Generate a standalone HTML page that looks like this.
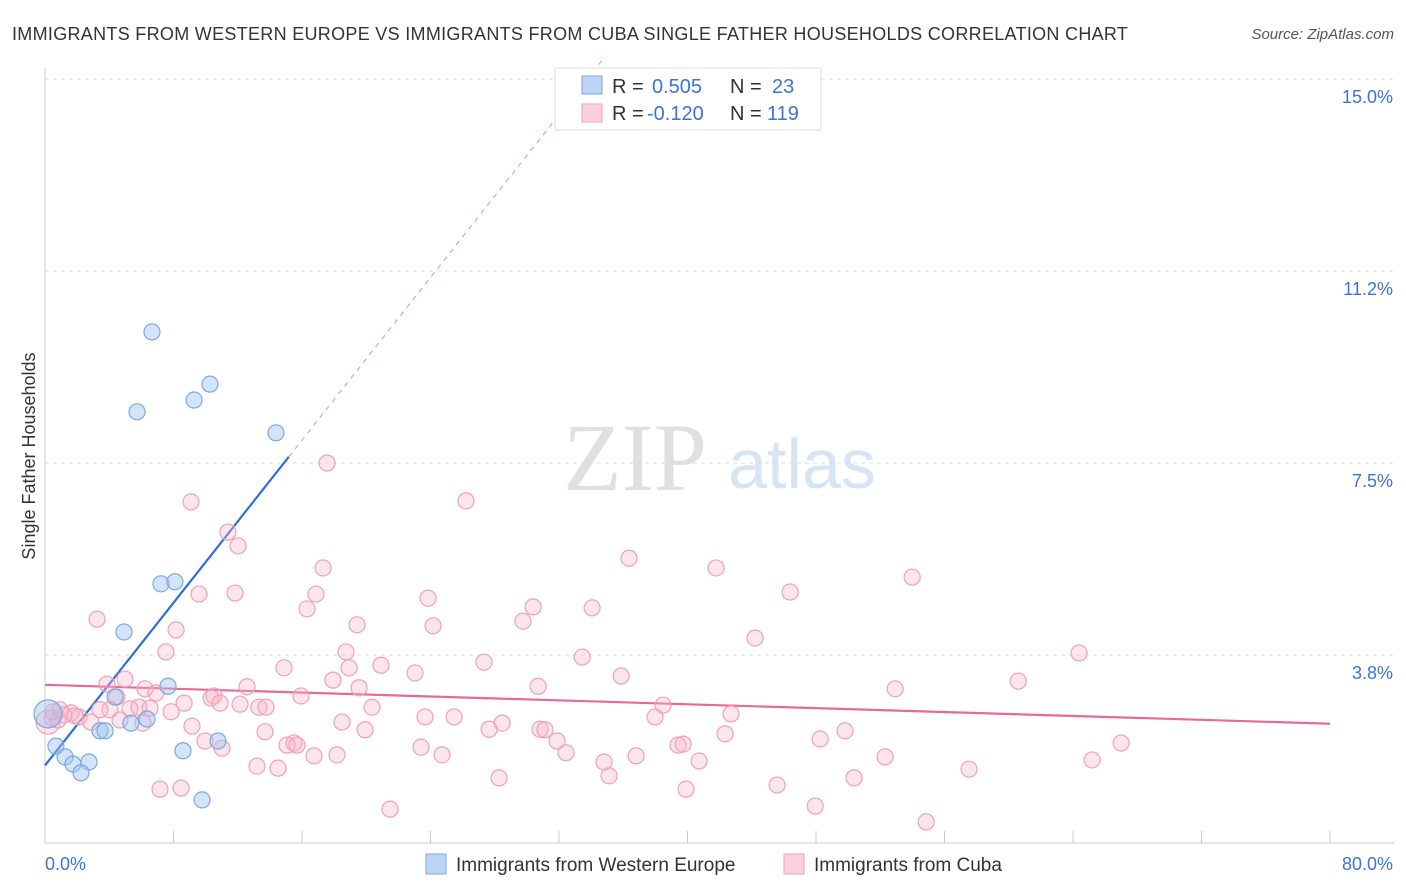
<!DOCTYPE html>
<html><head><meta charset="utf-8"><style>
body{margin:0;background:#fff;font-family:"Liberation Sans",sans-serif;}
#wrap{position:relative;width:1406px;height:892px;overflow:hidden;}
</style></head><body>
<div id="wrap">
<svg id="chart" width="1406" height="892" xmlns="http://www.w3.org/2000/svg">
<text x="12" y="40" font-size="18" letter-spacing="0.3" fill="#333">IMMIGRANTS FROM WESTERN EUROPE VS IMMIGRANTS FROM CUBA SINGLE FATHER HOUSEHOLDS CORRELATION CHART</text>
<text x="1394" y="39" font-size="15" fill="#555" font-style="italic" text-anchor="end">Source: ZipAtlas.com</text>
<g>
<text x="635" y="490" font-size="96" fill="#e0e0e0" font-family="Liberation Serif,serif" text-anchor="middle">ZIP</text>
<text x="802" y="488" font-size="70" fill="#d6e4f5" text-anchor="middle">atlas</text>
</g>
<g id="grid"></g>
<g id="axes"></g>
<g id="lines"></g>
<g id="pts"></g>
<text x="35" y="456" font-size="18" fill="#333" text-anchor="middle" transform="rotate(-90 35 456)">Single Father Households</text>
<g>
<rect x="555" y="68" width="266" height="62" fill="#fff" stroke="#ddd"/>
<rect x="582" y="76" width="20" height="18" fill="#bcd4f5" stroke="#7aa8e0"/>
<rect x="582" y="104" width="20" height="18" fill="#fbcfdc" stroke="#f0a0b8"/>
<text x="612" y="93" font-size="20" fill="#333">R =</text>
<text x="652" y="93" font-size="20" fill="#3a74d6">0.505</text>
<text x="730" y="93" font-size="20" fill="#333">N =</text>
<text x="772" y="93" font-size="20" fill="#3a74d6">23</text>
<text x="612" y="120" font-size="20" fill="#333">R =</text>
<text x="647" y="120" font-size="20" fill="#3a74d6">-0.120</text>
<text x="730" y="120" font-size="20" fill="#333">N =</text>
<text x="767" y="120" font-size="20" fill="#3a74d6">119</text>
</g>
<g>
<rect x="426" y="854" width="20" height="20" fill="#bcd4f5" stroke="#7aa8e0"/>
<text x="456" y="871" font-size="19" fill="#333">Immigrants from Western Europe</text>
<rect x="784" y="854" width="20" height="20" fill="#fbcfdc" stroke="#f0a0b8"/>
<text x="814" y="871" font-size="19" fill="#333">Immigrants from Cuba</text>
</g>
</svg>
</div>
<script>
const yTicks=[3.75,7.5,11.25,15];
const yTickLabels=["3.8%","7.5%","11.2%","15.0%"];
const xTickLabels=["0.0%","80.0%"];
const blueX=[6.66,5.73,9.28,10.27,14.38,7.22,8.09,4.92,7.66,4.36,6.35,5.35,3.42,3.74,8.59,10.77,0.68,1.25,1.74,2.74,2.24,9.78,0.19];
const blueY=[10.06,8.50,8.73,9.04,8.09,5.14,5.18,4.20,3.14,2.93,2.50,2.42,2.27,2.27,1.88,2.07,1.97,1.76,1.62,1.66,1.45,0.92,2.60];
const pinkX=[17.56,26.21,9.09,11.39,12.02,36.36,41.78,53.99,17.31,9.59,11.83,16.87,23.85,30.39,34.06,46.39,16.31,3.24,29.76,24.16,19.43,8.16,44.21,7.53,18.74,33.44,64.38,27.33,14.88,18.93,20.92,23.04,35.87,17.93,60.59,3.86,4.98,6.23,6.91,12.58,19.55,30.70,52.93,10.52,15.94,8.66,10.34,10.90,12.14,4.48,4.05,5.29,5.85,6.54,7.85,13.32,13.76,20.36,38.48,0.93,1.62,2.12,2.86,3.42,4.67,6.10,9.15,18.49,23.66,25.47,28.46,30.82,37.98,42.71,19.93,27.65,31.13,31.88,42.34,49.81,9.96,11.02,13.70,15.07,15.50,15.69,16.75,18.18,23.41,24.72,32.44,36.80,39.41,39.73,48.26,67.00,13.20,14.51,34.81,40.72,52.30,65.19,28.27,35.12,50.37,57.53,7.16,8.47,39.91,45.58,21.48,47.95,54.86,0.44,0.19,0.81,1.18,1.87,0.50];
const pinkY=[7.50,6.76,6.74,6.15,5.88,5.64,5.45,5.27,5.45,4.94,4.96,4.94,4.86,4.69,4.67,4.98,4.65,4.45,4.41,4.32,4.34,4.24,4.08,3.81,3.81,3.71,3.79,3.61,3.50,3.50,3.55,3.40,3.34,3.26,3.24,3.18,3.28,3.09,3.01,3.13,3.11,3.14,3.09,2.95,2.95,2.81,2.91,2.81,2.79,2.93,2.68,2.70,2.73,2.71,2.64,2.73,2.73,2.73,2.77,2.68,2.62,2.54,2.44,2.68,2.48,2.42,2.36,2.44,2.54,2.54,2.42,2.30,2.54,2.60,2.29,2.30,2.29,2.07,2.21,2.27,2.07,1.93,2.25,1.99,2.03,1.99,1.78,1.80,1.95,1.80,1.84,1.78,1.99,2.01,2.11,2.03,1.58,1.54,1.66,1.68,1.76,1.70,1.35,1.39,1.35,1.52,1.13,1.15,1.13,1.21,0.74,0.80,0.49,2.52,2.44,2.48,2.58,2.56,2.64];

const NS="http://www.w3.org/2000/svg";
const X0=45,X1=1330,Y0=847,PXY=51.2;
function xs(v){return X0+(X1-X0)*v/80;}
function ys(v){return Y0-v*PXY;}
function mk(tag,attrs,parent){const e=document.createElementNS(NS,tag);for(const k in attrs)e.setAttribute(k,attrs[k]);parent.appendChild(e);return e;}
const grid=document.getElementById('grid'),axes=document.getElementById('axes'),lines=document.getElementById('lines'),pts=document.getElementById('pts');
yTicks.forEach((t,i)=>{
  const g=mk('line',{x1:45,x2:1394,y1:ys(t),y2:ys(t),stroke:'#ddd','stroke-dasharray':'4,4'},grid);
  
  
  const tx=mk('text',{x:1393,y:ys(t)+24,'font-size':18,fill:'#3a74d6','text-anchor':'end'},axes);
  tx.textContent=yTickLabels[i];
  
  
});
const ax=mk('line',{x1:45,x2:45,y1:68,y2:843,stroke:'#ccc'},axes);


const bx=mk('line',{x1:45,x2:1394,y1:843,y2:843,stroke:'#ccc'},axes);


for(let i=0;i<=10;i++){
  const t=mk('line',{x1:xs(i*8),x2:xs(i*8),y1:831,y2:843,stroke:'#ccc'},axes);
  
  
}
const xl0=mk('text',{x:45,y:870,'font-size':18,fill:'#3a74d6'},axes);
xl0.textContent=xTickLabels[0];


const xl1=mk('text',{x:1393,y:870,'font-size':18,fill:'#3a74d6','text-anchor':'end'},axes);
xl1.textContent=xTickLabels[1];



function fit(X,Y){const n=X.length;let mx=0,my=0;for(let i=0;i<n;i++){mx+=X[i];my+=Y[i];}mx/=n;my/=n;let sxy=0,sxx=0;for(let i=0;i<n;i++){sxy+=(X[i]-mx)*(Y[i]-my);sxx+=(X[i]-mx)**2;}const b=sxy/sxx;return[my-b*mx,b];}
const [ba,bb]=fit(blueX,blueY);
const bmax=Math.max(...blueX)+0.8;
const bl=mk('line',{x1:xs(0),y1:ys(ba),x2:xs(bmax),y2:ys(ba+bb*bmax),stroke:'#2d6fd6','stroke-width':2.2},lines);


const xTop=(15.4-ba)/bb;
const bd=mk('line',{x1:xs(bmax),y1:ys(ba+bb*bmax),x2:xs(xTop),y2:ys(15.4),stroke:'#9bbbe8','stroke-width':1.2,'stroke-dasharray':'5,5'},lines);


const [pa,pb]=fit(pinkX,pinkY);
const pl=mk('line',{x1:xs(0),y1:ys(pa),x2:xs(80),y2:ys(pa+pb*80),stroke:'#e8689a','stroke-width':2.2},lines);



pinkX.forEach((x,i)=>{
  const c=mk('circle',{cx:xs(x),cy:ys(pinkY[i]),r:(i===pinkX.length-5)?12:8,fill:'rgba(248,180,200,0.35)',stroke:'#f0a0b8','stroke-width':1.2},pts);
  
  
});
blueX.forEach((x,i)=>{
  const c=mk('circle',{cx:xs(x),cy:ys(blueY[i]),r:(i===blueX.length-1)?14:8,fill:'rgba(160,196,240,0.45)',stroke:'#7aa8e0','stroke-width':1.2},pts);
  
  
});
</script>
</body></html>
